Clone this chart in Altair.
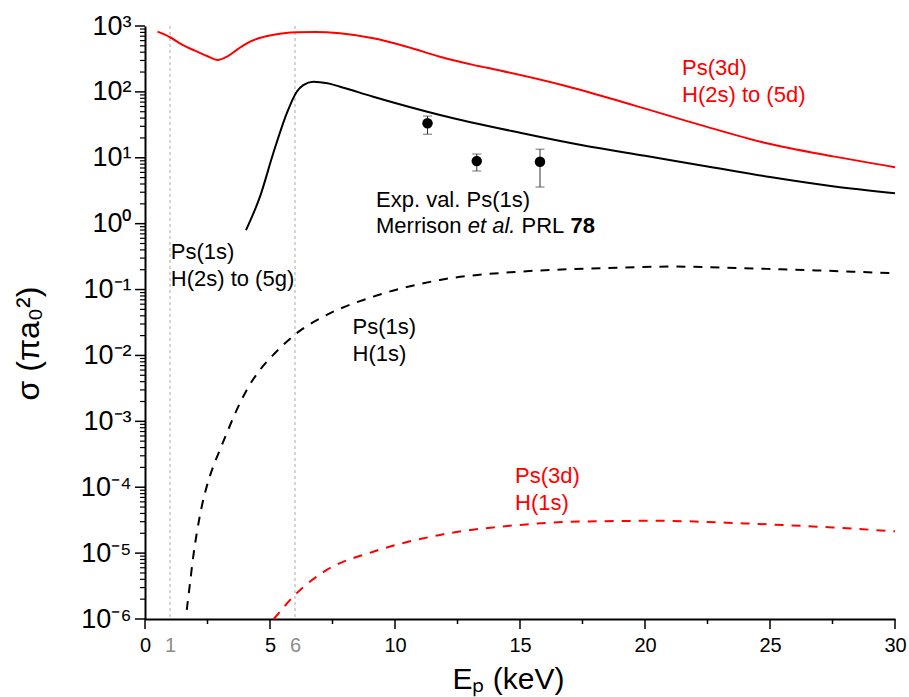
import altair as alt
import pandas as pd

FONT = "Liberation Sans"

# ---- curves ----
# Ps(3d), H(2s) to (5d)  -- red solid
rs_x = [0.5, 1.0, 1.5, 2.0, 2.5, 2.9, 3.3, 3.7, 4.2, 5.1, 6.1, 6.8, 7.8, 9.13, 10.47, 11.8, 13.13, 14.2, 16.87, 19.53, 22.2, 24.87, 27.53, 30.0]
rs_y = [820, 675, 515, 422, 347, 305, 347, 443, 578, 730, 802, 811, 774, 650, 485, 342, 257, 211, 122, 63, 31.6, 16.6, 10.5, 7.2]

# Ps(1s), H(2s) to (5g)  -- black solid
bs_x = [4.04, 4.6, 5.13, 5.67, 6.07, 6.33, 6.73, 7.3, 7.8, 9.13, 11.8, 15.0, 17.5, 20.0, 22.5, 25.0, 27.5, 30.0]
bs_y = [0.80, 2.57, 11.7, 47.3, 100.7, 127, 143, 135, 120, 84.5, 44.7, 24.0, 15.5, 10.7, 7.4, 5.1, 3.7, 2.9]

# Ps(1s), H(1s)  -- black dashed
bd_x = [1.67, 1.80, 1.93, 2.07, 2.27, 2.47, 2.73, 3.0, 3.27, 3.67, 4.07, 4.6, 5.13, 6.07, 7.27, 9.13, 11.8, 15.0, 18.2, 21.13, 24.87, 30.0]
bd_y = [1.37e-6, 3.49e-6, 8.87e-6, 2.0e-5, 5.09e-5, 1.03e-4, 2.07e-4, 3.71e-4, 6.61e-4, 1.49e-3, 3.0e-3, 6.04e-3, 1.02e-2, 2.18e-2, 4.12e-2, 7.8e-2, 0.14, 0.187, 0.21, 0.223, 0.206, 0.177]

# Ps(3d), H(1s)  -- red dashed
rd_x = [5.15, 6.07, 7.27, 9.13, 11.8, 15.0, 17.5, 20.5, 24.0, 27.5, 30.0]
rd_y = [1.0e-6, 2.47e-6, 5.56e-6, 1.05e-5, 1.89e-5, 2.68e-5, 3.02e-5, 3.09e-5, 2.82e-5, 2.45e-5, 2.14e-5]

# experimental values, Merrison et al.
exp_x = [11.3, 13.27, 15.8]
exp_y = [33.4, 8.9, 8.7]
exp_lo = [22.8, 6.3, 3.6]
exp_hi = [43.0, 11.4, 13.5]

# guide lines
guide_x = [1, 6]

# axis labels and ticks
x_labels = [0, 1, 5, 6, 10, 15, 20, 25, 30]
x_major = [0, 5, 10, 15, 20, 25, 30]
x_minor = [2.5, 7.5, 12.5, 17.5, 22.5, 27.5]
y_major = [1e-6, 1e-5, 1e-4, 1e-3, 1e-2, 1e-1, 1, 10, 100, 1000]
y_minor = [k * 10.0 ** n for n in range(-6, 3) for k in range(2, 10)]

# annotations (position = first line)
ann_text = ["Ps(1s)\nH(2s) to (5g)", "Ps(1s)\nH(1s)", "Ps(3d)\nH(2s) to (5d)", "Ps(3d)\nH(1s)"]
ann_x = [1.03, 8.3, 21.48, 14.8]
ann_y = [0.376, 0.0273, 230.7, 1.48e-4]
ann_color = ["black", "black", "red", "red"]

exp_label_x = [9.24]
exp_label_y1 = [2.29]
exp_label_y2 = [0.923]

W, H = 750, 593
xs = alt.Scale(domain=[0, 30], nice=False, zero=False)
ys = alt.Scale(type="log", domain=[1e-6, 1e3], nice=False)

sup = "['\u2070','\u00b9','\u00b2','\u00b3','\u2074','\u2075','\u2076']"
ylabel_expr = "'10' + (datum.value < 0.5 ? '\u207b' : '') + " + sup + "[round(abs(log(datum.value)/LN10))]"

x_axis = alt.Axis(
    values=x_labels, title="E\u209a (keV)", titleFontSize=30, titleX=363, titleY=69,
    titleBaseline="alphabetic", titleAlign="center",
    labelFontSize=20, labelPadding=16, format="d",
    labelColor={"condition": {"test": "datum.value == 1 || datum.value == 6", "value": "#8c8c8c"}, "value": "black"},
    ticks=False, orient="bottom", zindex=0,
)
y_axis = alt.Axis(
    values=y_major, title="\u03c3 (\u03c0a\u2080\u00b2)", titleFontSize=32, titleX=-107, titleY=317,
    titleBaseline="alphabetic", titleAlign="center", titleAngle=270,
    labelFontSize=27, labelPadding=14, labelExpr=ylabel_expr,
    ticks=False, orient="left", zindex=0,
)

df_rs = pd.DataFrame({"x": rs_x, "y": rs_y})
df_bs = pd.DataFrame({"x": bs_x, "y": bs_y})
df_bd = pd.DataFrame({"x": bd_x, "y": bd_y})
df_rd = pd.DataFrame({"x": rd_x, "y": rd_y})
df_exp = pd.DataFrame({"x": exp_x, "y": exp_y, "lo": exp_lo, "hi": exp_hi})
df_guide = pd.DataFrame({"x": guide_x})
df_ann = pd.DataFrame({"text": ann_text, "x": ann_x, "y": ann_y, "color": ann_color})
df_e1 = pd.DataFrame({"x": exp_label_x, "y": exp_label_y1, "text": ["Exp. val. Ps(1s)"]})
df_e2 = pd.DataFrame({"x": exp_label_x, "y": exp_label_y2})


def X(f="x"):
    return alt.X(f + ":Q", scale=xs, axis=None)


def Y(f="y"):
    return alt.Y(f + ":Q", scale=ys, axis=None)


guides = alt.Chart(df_guide).mark_rule(color="#aaaaaa", strokeDash=[3, 3], strokeWidth=1).encode(x=X())

red_solid = alt.Chart(df_rs).mark_line(color="#ff0000", strokeWidth=2, interpolate="monotone").encode(
    x=alt.X("x:Q", scale=xs, axis=x_axis),
    y=alt.Y("y:Q", scale=ys, axis=y_axis),
)
black_solid = alt.Chart(df_bs).mark_line(color="black", strokeWidth=2, interpolate="monotone").encode(x=X(), y=Y())
black_dash = alt.Chart(df_bd).mark_line(color="black", strokeWidth=2, strokeDash=[9, 8], interpolate="monotone").encode(x=X(), y=Y())
red_dash = alt.Chart(df_rd).mark_line(color="#ff0000", strokeWidth=2, strokeDash=[9, 8], interpolate="monotone").encode(x=X(), y=Y())

err = alt.Chart(df_exp).mark_rule(color="#333333", strokeWidth=1).encode(x=X(), y=Y("lo"), y2="hi:Q")
cap_lo = alt.Chart(df_exp).mark_tick(color="#333333", orient="horizontal", size=9, thickness=1).encode(x=X(), y=Y("lo"))
cap_hi = alt.Chart(df_exp).mark_tick(color="#333333", orient="horizontal", size=9, thickness=1).encode(x=X(), y=Y("hi"))
pts = alt.Chart(df_exp).mark_point(filled=True, color="black", size=110, opacity=1, shape="circle").encode(x=X(), y=Y())

# axis tick marks (outward), driven by the tick value lists through the scales
xt_major = alt.Chart(pd.DataFrame({"v": x_major})).mark_rule(color="black", strokeWidth=1.5).encode(
    x=X("v"), y=alt.value(H), y2=alt.value(H + 10))
xt_minor = alt.Chart(pd.DataFrame({"v": x_minor})).mark_rule(color="black", strokeWidth=1.5).encode(
    x=X("v"), y=alt.value(H), y2=alt.value(H + 5))
yt_major = alt.Chart(pd.DataFrame({"v": y_major})).mark_rule(color="black", strokeWidth=1.5).encode(
    y=Y("v"), x=alt.value(0), x2=alt.value(-10))
yt_minor = alt.Chart(pd.DataFrame({"v": y_minor})).mark_rule(color="black", strokeWidth=1.2).encode(
    y=Y("v"), x=alt.value(0), x2=alt.value(-5))

ann = alt.Chart(df_ann).mark_text(
    align="left", baseline="middle", font=FONT, fontSize=22, lineBreak="\n", lineHeight=27
).encode(x=X(), y=Y(), text="text:N", color=alt.Color("color:N", scale=None))

e1 = alt.Chart(df_e1).mark_text(align="left", baseline="middle", font=FONT, fontSize=22).encode(
    x=X(), y=Y(), text="text:N"
)


def piece(txt, dx, style="normal", weight="normal"):
    return alt.Chart(df_e2).mark_text(
        align="left", baseline="middle", font=FONT, fontSize=22, dx=dx, fontStyle=style, fontWeight=weight
    ).encode(x=X(), y=Y(), text=alt.value(txt))


e2 = [
    piece("Merrison", 0),
    piece("et al.", 91.7, style="italic"),
    piece("PRL", 145.5),
    piece("78", 194.4, weight="bold"),
]

chart = alt.layer(
    guides, red_solid, black_solid, black_dash, red_dash, err, cap_lo, cap_hi, pts,
    xt_major, xt_minor, yt_major, yt_minor, ann, e1, *e2
).resolve_axis(x="independent", y="independent").properties(
    width=W, height=H,
    autosize=alt.AutoSizeParams(type="none"),
    padding={"left": 145, "top": 26, "right": 14, "bottom": 78},
    background="white",
).configure_view(stroke=None).configure_axis(
    domainColor="black", domainWidth=2, grid=False,
    labelFont=FONT, labelColor="black", labelFlush=False,
    titleFont=FONT, titleFontWeight="normal", titleColor="black",
)

chart.save("out.html", embed_options={"renderer": "svg", "actions": False})
